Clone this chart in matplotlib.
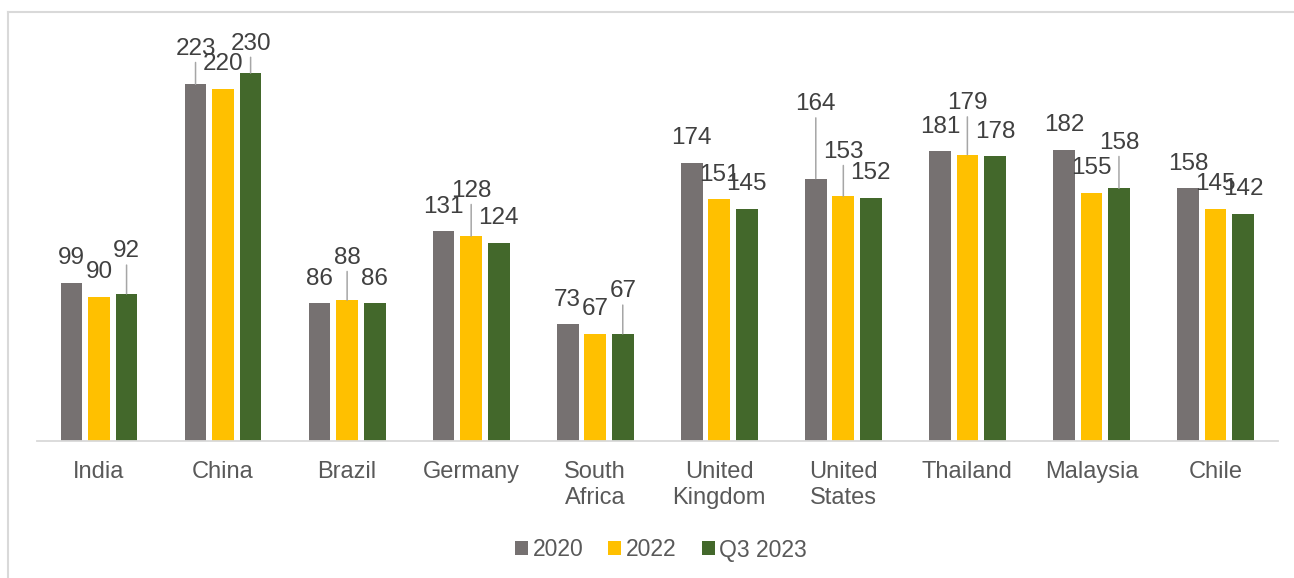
import numpy as np
import matplotlib.pyplot as plt
from matplotlib.lines import Line2D
from matplotlib.patches import Patch

plt.rcParams['font.family'] = ['Liberation Sans', 'DejaVu Sans']

# data
categories = ['India', 'China', 'Brazil', 'Germany', 'South\nAfrica',
              'United\nKingdom', 'United\nStates', 'Thailand', 'Malaysia', 'Chile']
series_names = ['2020', '2022', 'Q3 2023']
v2020 = [99, 223, 86, 131, 73, 174, 164, 181, 182, 158]
v2022 = [90, 220, 88, 128, 67, 151, 153, 179, 155, 145]
vq3 = [92, 230, 86, 124, 67, 145, 152, 178, 158, 142]

# extra lift of the data labels (pixels) where Excel moved them up
lift2020 = [0, 11, 0, 0, 0, 0, 50, 0, 0, 0]
lift2022 = [0, 0, 18, 21, 0, 0, 20, 27, 0, 0]
liftq3 = [18, 5, 0, 0, 18, 0, 0, 0, 21, 0]

colors = ['#767171', '#FFC000', '#43682B']
px = 0.72  # points per pixel at 100 dpi

fig = plt.figure(figsize=(12.94, 5.78), dpi=100)
ax = fig.add_axes([37 / 1294, 137 / 578, 1240.5 / 1294, 400 / 578])

x = np.arange(len(categories))
offsets = [-0.222, 0, 0.222]
all_vals = [v2020, v2022, vq3]
all_lifts = [lift2020, lift2022, liftq3]

for vals, lifts, off, col, name in zip(all_vals, all_lifts, offsets, colors, series_names):
    ax.bar(x + off, vals, width=0.175, color=col, label=name, zorder=2)
    for xi, v, lift in zip(x + off, vals, lifts):
        arrow = None
        if lift >= 5:
            arrow = dict(arrowstyle='-', color='#A6A6A6', lw=1.1, shrinkA=0, shrinkB=0)
        ax.annotate(str(v), xy=(xi, v), xytext=(0, (24.5 + lift) * px),
                    textcoords='offset points', ha='center', va='center',
                    fontsize=17.5, color='#404040', arrowprops=arrow,
                    annotation_clip=False)

ax.set_xlim(-0.5, len(categories) - 0.5)
ax.set_ylim(0, 250)
ax.set_xticks(x)
ax.set_xticklabels(categories, fontsize=17, color='#595959', linespacing=1.25)
ax.tick_params(axis='x', length=0, pad=14.5)
ax.set_yticks([])
for s in ['left', 'right', 'top']:
    ax.spines[s].set_visible(False)
ax.spines['bottom'].set_color('#D9D9D9')
ax.spines['bottom'].set_linewidth(1.3)
ax.patch.set_alpha(0)

handles = [Patch(facecolor=c, label=n) for c, n in zip(colors, series_names)]
fig.legend(handles=handles, loc='center', bbox_to_anchor=(661 / 1294, 1 - 550 / 578),
           ncol=3, frameon=False, fontsize=16.5, handlelength=0.57, handleheight=0.57,
           handletextpad=0.2, columnspacing=1.1, labelcolor='#595959')

# outer chart border (left and top visible)
fig.add_artist(Line2D([7.5 / 1294, 7.5 / 1294], [0, 1 - 11.5 / 578],
                      transform=fig.transFigure, color='#D9D9D9', lw=1.5))
fig.add_artist(Line2D([7.5 / 1294, 1], [1 - 11.5 / 578, 1 - 11.5 / 578],
                      transform=fig.transFigure, color='#D9D9D9', lw=1.5))

fig.savefig('out.png', dpi=100)
